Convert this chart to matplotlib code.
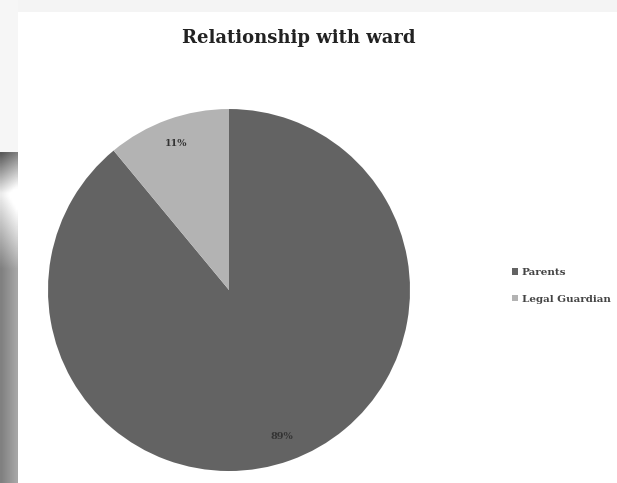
import matplotlib
matplotlib.use("Agg")
import matplotlib.pyplot as plt
import numpy as np
from matplotlib.patches import Rectangle

# dados do grafico
categorias = ["Parents", "Legal Guardian"]
percentuais = [89, 11]
cores = ["#636363", "#b3b3b3"]

fig = plt.figure(figsize=(6.17, 4.83), dpi=100)
fig.patch.set_facecolor("white")

# fundo (recorte de documento): faixas cinzas nas bordas
fundo = fig.add_axes([0, 0, 1, 1], zorder=-10)
fundo.set_xlim(0, 617)
fundo.set_ylim(483, 0)
fundo.axis("off")
fundo.add_patch(Rectangle((0, 0), 617, 12, color="#f4f4f4", lw=0))
fundo.add_patch(Rectangle((0, 0), 18, 152, color="#f6f6f6", lw=0))
grad_h = np.linspace(0.45, 0.97, 50).reshape(1, -1)
fundo.imshow(grad_h, cmap="gray", vmin=0, vmax=1, extent=(220, 262, 12, 0), aspect="auto")
col = np.concatenate([np.linspace(0.4, 0.97, 14), np.linspace(0.97, 0.55, 25), np.full(70, 0.55)])
grad_v = np.tile(col.reshape(-1, 1), (1, 6))
grad_v = grad_v + np.linspace(-0.05, 0.1, 6)
fundo.imshow(np.clip(grad_v, 0, 1), cmap="gray", vmin=0, vmax=1, extent=(0, 18, 483, 152),
             aspect="auto", interpolation="bilinear")
fundo.add_patch(Rectangle((18, 12), 599, 471, color="white", lw=0))

ax = fig.add_axes([0.0778, 0.0248, 0.5867, 0.7495])
fatias, textos, autotextos = ax.pie(
    percentuais, colors=cores, startangle=90, counterclock=False,
    autopct="%d%%", pctdistance=0.86,
    wedgeprops=dict(linewidth=0),
    textprops=dict(fontsize=7, fontweight="bold", family="DejaVu Serif", color="#333333"),
)
ax.set_xlim(-1, 1)
ax.set_ylim(-1, 1)
ax.set_aspect("equal")

fig.text(0.485, 0.922, "Relationship with ward", ha="center", va="center",
         fontsize=13, fontweight="bold", family="DejaVu Serif", color="#222222")

leg = fig.legend(fatias, categorias, loc="center left", bbox_to_anchor=(0.815, 0.408),
                 frameon=False, handlelength=0.6, handleheight=0.6, handletextpad=0.3,
                 labelspacing=1.7, prop=dict(size=7.5, weight="bold", family="DejaVu Serif"))
for t in leg.get_texts():
    t.set_color("#444444")

fig.savefig("out.png", dpi=100)
